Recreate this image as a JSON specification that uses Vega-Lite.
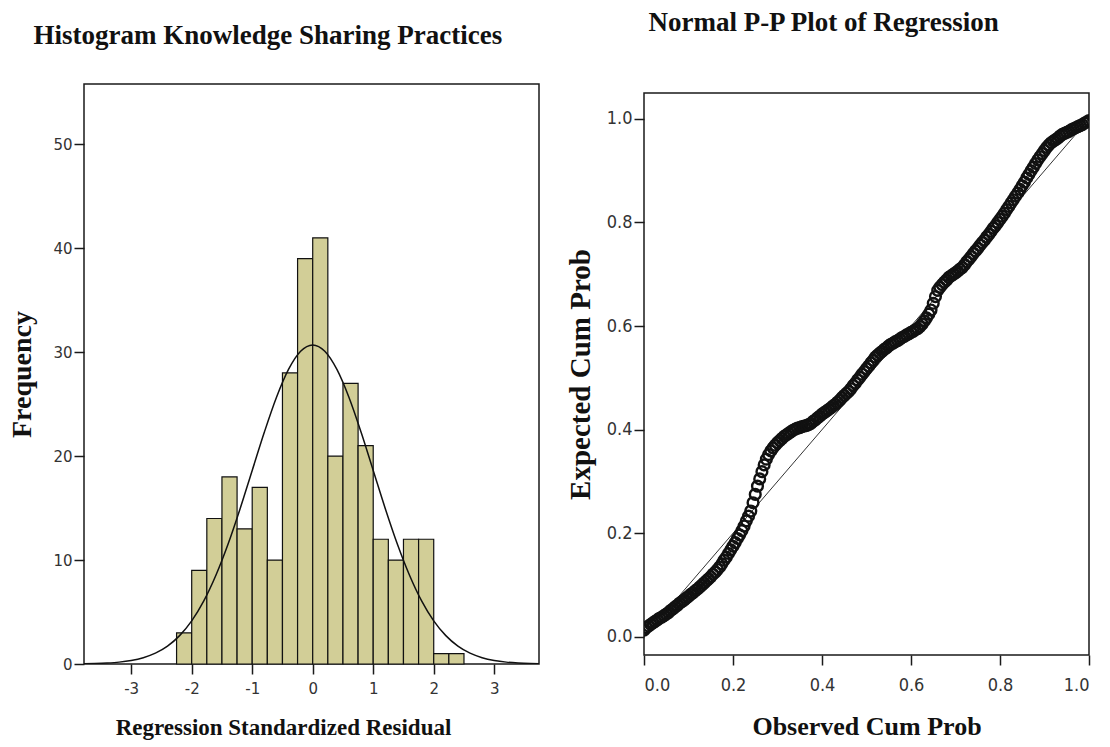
{
  "$schema": "https://vega.github.io/schema/vega-lite/v6.json",
  "background": "white",
  "padding": {"left": 8, "top": 8, "right": 5, "bottom": 5},
  "bounds": "flush",
  "center": true,
  "spacing": 105,
  "config": {
    "view": {"stroke": "#1a1a1a", "strokeWidth": 1.5},
    "axis": {"grid": false, "domain": false, "tickColor": "#1a1a1a", "tickSize": 10, "tickWidth": 1.5, "labelColor": "#333333", "titleColor": "#111111", "titleFont": "Liberation Serif", "titleFontWeight": "bold", "titleFontSize": 22},
    "title": {"font": "Liberation Serif", "fontWeight": "bold", "fontSize": 27, "color": "#111111", "anchor": "middle", "frame": "bounds"}
  },
  "datasets": {
    "hist": [
      {"bin_start": -2.25, "bin_end": -2.0, "count": 3},
      {"bin_start": -2.0, "bin_end": -1.75, "count": 9},
      {"bin_start": -1.75, "bin_end": -1.5, "count": 14},
      {"bin_start": -1.5, "bin_end": -1.25, "count": 18},
      {"bin_start": -1.25, "bin_end": -1.0, "count": 13},
      {"bin_start": -1.0, "bin_end": -0.75, "count": 17},
      {"bin_start": -0.75, "bin_end": -0.5, "count": 10},
      {"bin_start": -0.5, "bin_end": -0.25, "count": 28},
      {"bin_start": -0.25, "bin_end": 0.0, "count": 39},
      {"bin_start": 0.0, "bin_end": 0.25, "count": 41},
      {"bin_start": 0.25, "bin_end": 0.5, "count": 20},
      {"bin_start": 0.5, "bin_end": 0.75, "count": 27},
      {"bin_start": 0.75, "bin_end": 1.0, "count": 21},
      {"bin_start": 1.0, "bin_end": 1.25, "count": 12},
      {"bin_start": 1.25, "bin_end": 1.5, "count": 10},
      {"bin_start": 1.5, "bin_end": 1.75, "count": 12},
      {"bin_start": 1.75, "bin_end": 2.0, "count": 12},
      {"bin_start": 2.0, "bin_end": 2.25, "count": 1},
      {"bin_start": 2.25, "bin_end": 2.5, "count": 1}
    ],
    "normal": [
      {"x": -3.8, "y": 0.022}, {"x": -3.6, "y": 0.047}, {"x": -3.4, "y": 0.095}, {"x": -3.2, "y": 0.18},
      {"x": -3.0, "y": 0.34}, {"x": -2.8, "y": 0.61}, {"x": -2.6, "y": 1.04}, {"x": -2.4, "y": 1.72},
      {"x": -2.2, "y": 2.73}, {"x": -2.0, "y": 4.15}, {"x": -1.8, "y": 6.07}, {"x": -1.6, "y": 8.54},
      {"x": -1.4, "y": 11.52}, {"x": -1.2, "y": 14.94}, {"x": -1.0, "y": 18.62}, {"x": -0.8, "y": 22.29},
      {"x": -0.6, "y": 25.64}, {"x": -0.4, "y": 28.34}, {"x": -0.2, "y": 30.09}, {"x": 0.0, "y": 30.7},
      {"x": 0.2, "y": 30.09}, {"x": 0.4, "y": 28.34}, {"x": 0.6, "y": 25.64}, {"x": 0.8, "y": 22.29},
      {"x": 1.0, "y": 18.62}, {"x": 1.2, "y": 14.94}, {"x": 1.4, "y": 11.52}, {"x": 1.6, "y": 8.54},
      {"x": 1.8, "y": 6.07}, {"x": 2.0, "y": 4.15}, {"x": 2.2, "y": 2.73}, {"x": 2.4, "y": 1.72},
      {"x": 2.6, "y": 1.04}, {"x": 2.8, "y": 0.61}, {"x": 3.0, "y": 0.34}, {"x": 3.2, "y": 0.18},
      {"x": 3.4, "y": 0.095}, {"x": 3.6, "y": 0.047}, {"x": 3.8, "y": 0.022}
    ],
    "diag": [
      {"obs": 0, "exp": 0},
      {"obs": 1, "exp": 1}
    ],
    "pp": [
      {"obs":0.000,"exp":0.013},{"obs":0.005,"exp":0.018},{"obs":0.010,"exp":0.021},{"obs":0.015,"exp":0.024},
      {"obs":0.020,"exp":0.027},{"obs":0.025,"exp":0.030},{"obs":0.030,"exp":0.033},{"obs":0.035,"exp":0.036},
      {"obs":0.040,"exp":0.038},{"obs":0.045,"exp":0.041},{"obs":0.050,"exp":0.044},{"obs":0.055,"exp":0.047},
      {"obs":0.060,"exp":0.051},{"obs":0.065,"exp":0.054},{"obs":0.070,"exp":0.058},{"obs":0.075,"exp":0.061},
      {"obs":0.080,"exp":0.065},{"obs":0.085,"exp":0.068},{"obs":0.090,"exp":0.071},{"obs":0.095,"exp":0.075},
      {"obs":0.100,"exp":0.078},{"obs":0.105,"exp":0.082},{"obs":0.110,"exp":0.085},{"obs":0.115,"exp":0.089},
      {"obs":0.120,"exp":0.092},{"obs":0.125,"exp":0.096},{"obs":0.130,"exp":0.100},{"obs":0.135,"exp":0.104},
      {"obs":0.140,"exp":0.108},{"obs":0.145,"exp":0.112},{"obs":0.150,"exp":0.116},{"obs":0.155,"exp":0.121},
      {"obs":0.160,"exp":0.125},{"obs":0.165,"exp":0.130},{"obs":0.170,"exp":0.135},{"obs":0.175,"exp":0.141},
      {"obs":0.180,"exp":0.148},{"obs":0.185,"exp":0.154},{"obs":0.190,"exp":0.161},{"obs":0.195,"exp":0.168},
      {"obs":0.200,"exp":0.175},{"obs":0.205,"exp":0.182},{"obs":0.210,"exp":0.190},{"obs":0.215,"exp":0.197},
      {"obs":0.220,"exp":0.205},{"obs":0.225,"exp":0.214},{"obs":0.230,"exp":0.224},{"obs":0.235,"exp":0.233},
      {"obs":0.240,"exp":0.243},{"obs":0.245,"exp":0.259},{"obs":0.250,"exp":0.275},{"obs":0.255,"exp":0.291},
      {"obs":0.260,"exp":0.305},{"obs":0.265,"exp":0.319},{"obs":0.270,"exp":0.332},{"obs":0.275,"exp":0.343},
      {"obs":0.280,"exp":0.352},{"obs":0.285,"exp":0.359},{"obs":0.290,"exp":0.365},{"obs":0.295,"exp":0.370},
      {"obs":0.300,"exp":0.375},{"obs":0.305,"exp":0.379},{"obs":0.310,"exp":0.383},{"obs":0.315,"exp":0.387},
      {"obs":0.320,"exp":0.390},{"obs":0.325,"exp":0.393},{"obs":0.330,"exp":0.396},{"obs":0.335,"exp":0.399},
      {"obs":0.340,"exp":0.401},{"obs":0.345,"exp":0.403},{"obs":0.350,"exp":0.404},{"obs":0.355,"exp":0.406},
      {"obs":0.360,"exp":0.407},{"obs":0.365,"exp":0.408},{"obs":0.370,"exp":0.410},{"obs":0.375,"exp":0.412},
      {"obs":0.380,"exp":0.416},{"obs":0.385,"exp":0.419},{"obs":0.390,"exp":0.423},{"obs":0.395,"exp":0.426},
      {"obs":0.400,"exp":0.430},{"obs":0.405,"exp":0.433},{"obs":0.410,"exp":0.436},{"obs":0.415,"exp":0.439},
      {"obs":0.420,"exp":0.442},{"obs":0.425,"exp":0.446},{"obs":0.430,"exp":0.449},{"obs":0.435,"exp":0.453},
      {"obs":0.440,"exp":0.457},{"obs":0.445,"exp":0.462},{"obs":0.450,"exp":0.466},{"obs":0.455,"exp":0.470},
      {"obs":0.460,"exp":0.474},{"obs":0.465,"exp":0.479},{"obs":0.470,"exp":0.485},{"obs":0.475,"exp":0.490},
      {"obs":0.480,"exp":0.496},{"obs":0.485,"exp":0.501},{"obs":0.490,"exp":0.507},{"obs":0.495,"exp":0.512},
      {"obs":0.500,"exp":0.518},{"obs":0.505,"exp":0.523},{"obs":0.510,"exp":0.529},{"obs":0.515,"exp":0.534},
      {"obs":0.520,"exp":0.540},{"obs":0.525,"exp":0.544},{"obs":0.530,"exp":0.548},{"obs":0.535,"exp":0.551},
      {"obs":0.540,"exp":0.555},{"obs":0.545,"exp":0.558},{"obs":0.550,"exp":0.562},{"obs":0.555,"exp":0.565},
      {"obs":0.560,"exp":0.567},{"obs":0.565,"exp":0.570},{"obs":0.570,"exp":0.572},{"obs":0.575,"exp":0.575},
      {"obs":0.580,"exp":0.578},{"obs":0.585,"exp":0.580},{"obs":0.590,"exp":0.583},{"obs":0.595,"exp":0.585},
      {"obs":0.600,"exp":0.588},{"obs":0.605,"exp":0.590},{"obs":0.610,"exp":0.593},{"obs":0.615,"exp":0.595},
      {"obs":0.620,"exp":0.599},{"obs":0.625,"exp":0.604},{"obs":0.630,"exp":0.610},{"obs":0.635,"exp":0.616},
      {"obs":0.640,"exp":0.623},{"obs":0.645,"exp":0.631},{"obs":0.650,"exp":0.644},{"obs":0.655,"exp":0.657},
      {"obs":0.660,"exp":0.669},{"obs":0.665,"exp":0.675},{"obs":0.670,"exp":0.680},{"obs":0.675,"exp":0.685},
      {"obs":0.680,"exp":0.689},{"obs":0.685,"exp":0.694},{"obs":0.690,"exp":0.697},{"obs":0.695,"exp":0.700},
      {"obs":0.700,"exp":0.703},{"obs":0.705,"exp":0.706},{"obs":0.710,"exp":0.710},{"obs":0.715,"exp":0.713},
      {"obs":0.720,"exp":0.718},{"obs":0.725,"exp":0.724},{"obs":0.730,"exp":0.729},{"obs":0.735,"exp":0.734},
      {"obs":0.740,"exp":0.740},{"obs":0.745,"exp":0.745},{"obs":0.750,"exp":0.750},{"obs":0.755,"exp":0.756},
      {"obs":0.760,"exp":0.761},{"obs":0.765,"exp":0.766},{"obs":0.770,"exp":0.772},{"obs":0.775,"exp":0.777},
      {"obs":0.780,"exp":0.783},{"obs":0.785,"exp":0.789},{"obs":0.790,"exp":0.794},{"obs":0.795,"exp":0.800},
      {"obs":0.800,"exp":0.806},{"obs":0.805,"exp":0.812},{"obs":0.810,"exp":0.818},{"obs":0.815,"exp":0.825},
      {"obs":0.820,"exp":0.831},{"obs":0.825,"exp":0.838},{"obs":0.830,"exp":0.844},{"obs":0.835,"exp":0.851},
      {"obs":0.840,"exp":0.857},{"obs":0.845,"exp":0.864},{"obs":0.850,"exp":0.871},{"obs":0.855,"exp":0.878},
      {"obs":0.860,"exp":0.886},{"obs":0.865,"exp":0.893},{"obs":0.870,"exp":0.900},{"obs":0.875,"exp":0.907},
      {"obs":0.880,"exp":0.914},{"obs":0.885,"exp":0.921},{"obs":0.890,"exp":0.927},{"obs":0.895,"exp":0.933},
      {"obs":0.900,"exp":0.939},{"obs":0.905,"exp":0.945},{"obs":0.910,"exp":0.950},{"obs":0.915,"exp":0.954},
      {"obs":0.920,"exp":0.957},{"obs":0.925,"exp":0.960},{"obs":0.930,"exp":0.963},{"obs":0.935,"exp":0.967},
      {"obs":0.940,"exp":0.970},{"obs":0.945,"exp":0.972},{"obs":0.950,"exp":0.974},{"obs":0.955,"exp":0.976},
      {"obs":0.960,"exp":0.979},{"obs":0.965,"exp":0.981},{"obs":0.970,"exp":0.983},{"obs":0.975,"exp":0.985},
      {"obs":0.980,"exp":0.987},{"obs":0.985,"exp":0.989},{"obs":0.990,"exp":0.992},{"obs":0.995,"exp":0.994},
      {"obs":1.000,"exp":0.997}
    ]
  },
  "hconcat": [
    {
      "width": 455,
      "height": 580,
      "title": {"text": "Histogram Knowledge Sharing Practices", "offset": 34, "dx": -6},
      "layer": [
        {
          "data": {"name": "hist"},
          "mark": {"type": "bar", "fill": "#D2CE97", "stroke": "#111111", "strokeWidth": 1.2},
          "encoding": {
            "x": {"field": "bin_start", "type": "quantitative", "title": "Regression Standardized Residual",
                  "scale": {"domain": [-3.78, 3.74], "nice": false, "zero": false},
                  "axis": {"values": [-3, -2, -1, 0, 1, 2, 3], "labelExpr": "datum.value < 0 ? '-' + abs(datum.value) : '' + datum.value", "labelFont": "DejaVu Sans", "labelFontSize": 15, "labelPadding": 7, "titlePadding": 20, "titleFontSize": 23, "titleX": 199}},
            "x2": {"field": "bin_end"},
            "y": {"field": "count", "type": "quantitative", "title": "Frequency",
                  "scale": {"domain": [0, 55.8], "nice": false},
                  "axis": {"values": [0, 10, 20, 30, 40, 50], "labelFont": "DejaVu Sans", "labelFontSize": 15, "labelPadding": 2, "titlePadding": 16, "titleFontSize": 28}},
            "y2": {"datum": 0}
          }
        },
        {
          "data": {"name": "normal"},
          "mark": {"type": "line", "color": "#111111", "strokeWidth": 1.5, "interpolate": "monotone", "clip": true},
          "encoding": {
            "x": {"field": "x", "type": "quantitative", "title": "Regression Standardized Residual"},
            "y": {"field": "y", "type": "quantitative", "title": "Frequency"}
          }
        }
      ]
    },
    {
      "width": 445,
      "height": 562,
      "title": {"text": "Normal P-P Plot of Regression", "offset": 56, "dx": -5},
      "layer": [
        {
          "data": {"name": "diag"},
          "mark": {"type": "line", "color": "#333333", "strokeWidth": 1},
          "encoding": {
            "x": {"field": "obs", "type": "quantitative", "title": "Observed Cum Prob",
                  "scale": {"domain": [0, 1], "nice": false},
                  "axis": {"values": [0, 0.2, 0.4, 0.6, 0.8, 1.0], "format": ".1f", "labelFont": "Liberation Sans Narrow, DejaVu Sans Condensed, sans-serif", "labelFontSize": 18, "labelPadding": 11, "titlePadding": 19, "titleFontSize": 26}},
            "y": {"field": "exp", "type": "quantitative", "title": "Expected Cum Prob",
                  "scale": {"domain": [-0.035, 1.05], "nice": false, "zero": false},
                  "axis": {"values": [0, 0.2, 0.4, 0.6, 0.8, 1.0], "format": ".1f", "labelFont": "Liberation Sans Narrow, DejaVu Sans Condensed, sans-serif", "labelFontSize": 18, "labelPadding": 2, "titlePadding": 11, "titleFontSize": 29}}
          }
        },
        {
          "data": {"name": "pp"},
          "mark": {"type": "point", "shape": "circle", "filled": false, "stroke": "#111111", "strokeWidth": 2.4, "size": 115, "opacity": 1, "clip": true},
          "encoding": {
            "x": {"field": "obs", "type": "quantitative", "title": "Observed Cum Prob"},
            "y": {"field": "exp", "type": "quantitative", "title": "Expected Cum Prob"}
          }
        }
      ]
    }
  ]
}
